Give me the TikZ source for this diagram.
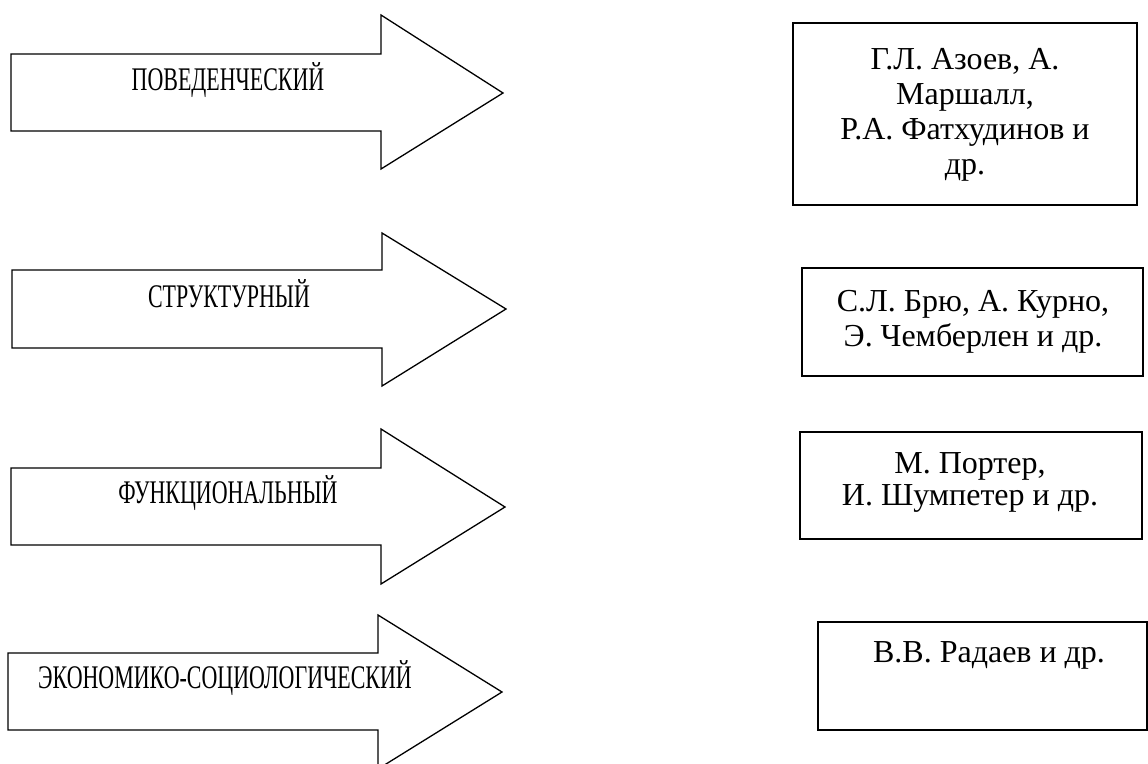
\documentclass[tikz,border=0pt]{standalone}
\usepackage{fontspec}
\setmainfont{Liberation Serif}
\newfontfamily\narrowserif[FakeStretch=0.665]{Liberation Serif}
\usepackage{tikz}

\tikzset{
  bigarrow/.style={draw, line width=1.3pt, line join=miter},
  approach/.style={inner sep=0pt, anchor=base, font=\narrowserif\fontsize{33}{40}\selectfont},
  authorbox/.style={draw, line width=1.6pt},
  authors/.style={inner sep=0pt, align=center, font=\fontsize{32}{35}\selectfont}
}

\begin{document}
\begin{tikzpicture}[x=1pt,y=-1pt]
  \useasboundingbox (0,0) rectangle (1148,763);
  \clip (0,0) rectangle (1148,763);

  %% behavioural
  \draw[bigarrow] (11,54) -- (381,54) -- (381,15) -- (503,93) -- (381,169) -- (381,131) -- (11,131) -- cycle;
  \node[approach] (behav) at (228,90) {ПОВЕДЕНЧЕСКИЙ};
  \draw[authorbox] (793,23) rectangle (1137,205);
  \node[authors] (behavauth) at (965,115) {Г.Л. Азоев, А.\\ Маршалл,\\ Р.А. Фатхудинов и\\ др.};

  %% structural
  \draw[bigarrow] (12,270) -- (382,270) -- (382,233) -- (506,309) -- (382,386) -- (382,348) -- (12,348) -- cycle;
  \node[approach] (struct) at (229,307) {СТРУКТУРНЫЙ};
  \draw[authorbox] (802,268) rectangle (1143,376);
  \node[authors] (structauth) at (973,322) {С.Л. Брю, А. Курно,\\ Э. Чемберлен и др.};

  %% functional
  \draw[bigarrow] (11,468) -- (381,468) -- (381,429) -- (505,507) -- (381,584) -- (381,545) -- (11,545) -- cycle;
  \node[approach] (func) at (228,503) {ФУНКЦИОНАЛЬНЫЙ};
  \draw[authorbox] (800,432) rectangle (1142,539);
  \node[authors, font=\fontsize{32}{32}\selectfont] (funcauth) at (970,482) {М. Портер,\\ И. Шумпетер и др.};

  %% economic-sociological
  \draw[bigarrow] (8,653) -- (378,653) -- (378,615) -- (502,692) -- (378,769) -- (378,730) -- (8,730) -- cycle;
  \node[approach] (econ) at (225,688) {ЭКОНОМИКО-СОЦИОЛОГИЧЕСКИЙ};
  \draw[authorbox] (818,622) rectangle (1147,730);
  \node[authors, anchor=base] (econauth) at (989,662) {В.В. Радаев и др.};

\end{tikzpicture}
\end{document}
